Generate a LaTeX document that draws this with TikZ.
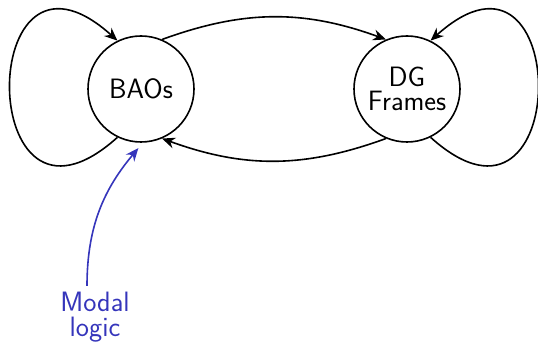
\documentclass[tikz,border=0pt]{standalone}
\usepackage{fontspec}
\usetikzlibrary{arrows.meta}
\definecolor{modalc}{HTML}{3535BB}

\begin{document}
\begin{tikzpicture}[
  x=1pt,y=1pt,
  every node/.style={font=\sffamily\fontsize{28}{24.5}\selectfont},
  world/.style={draw,circle,line width=1.6pt,minimum size=106pt,inner sep=0pt,align=center},
  link/.style={line width=1.6pt,-{Stealth[length=13pt,width=11pt]}},
  modalarrow/.style={link,modalc}
]
  \useasboundingbox (0,0) rectangle (538,342);

  % the two worlds
  \node[world] (bao) at (141,253) {BAOs};
  \node[world] (dg) at (407,253) {DG\\Frames};

  % self loops
  \draw[link] (bao.-116) to[out=-138,in=138,looseness=5.1] (bao.116);
  \draw[link] (dg.-64) to[out=-42,in=42,looseness=5.1] (dg.64);

  % back and forth
  \draw[link] (bao.67) to[bend left=20] (dg.113);
  \draw[link] (dg.-113) to[bend left=20] (bao.-67);

  % modal logic below
  \node[text=modalc,align=center,inner sep=0pt] (modal) at (95,25) {Modal\\logic};
  \draw[modalarrow,shorten >=7pt] ([xshift=-8pt,yshift=6pt]modal.north)
    to[out=90,in=-130] (bao.-88);
\end{tikzpicture}
\end{document}
